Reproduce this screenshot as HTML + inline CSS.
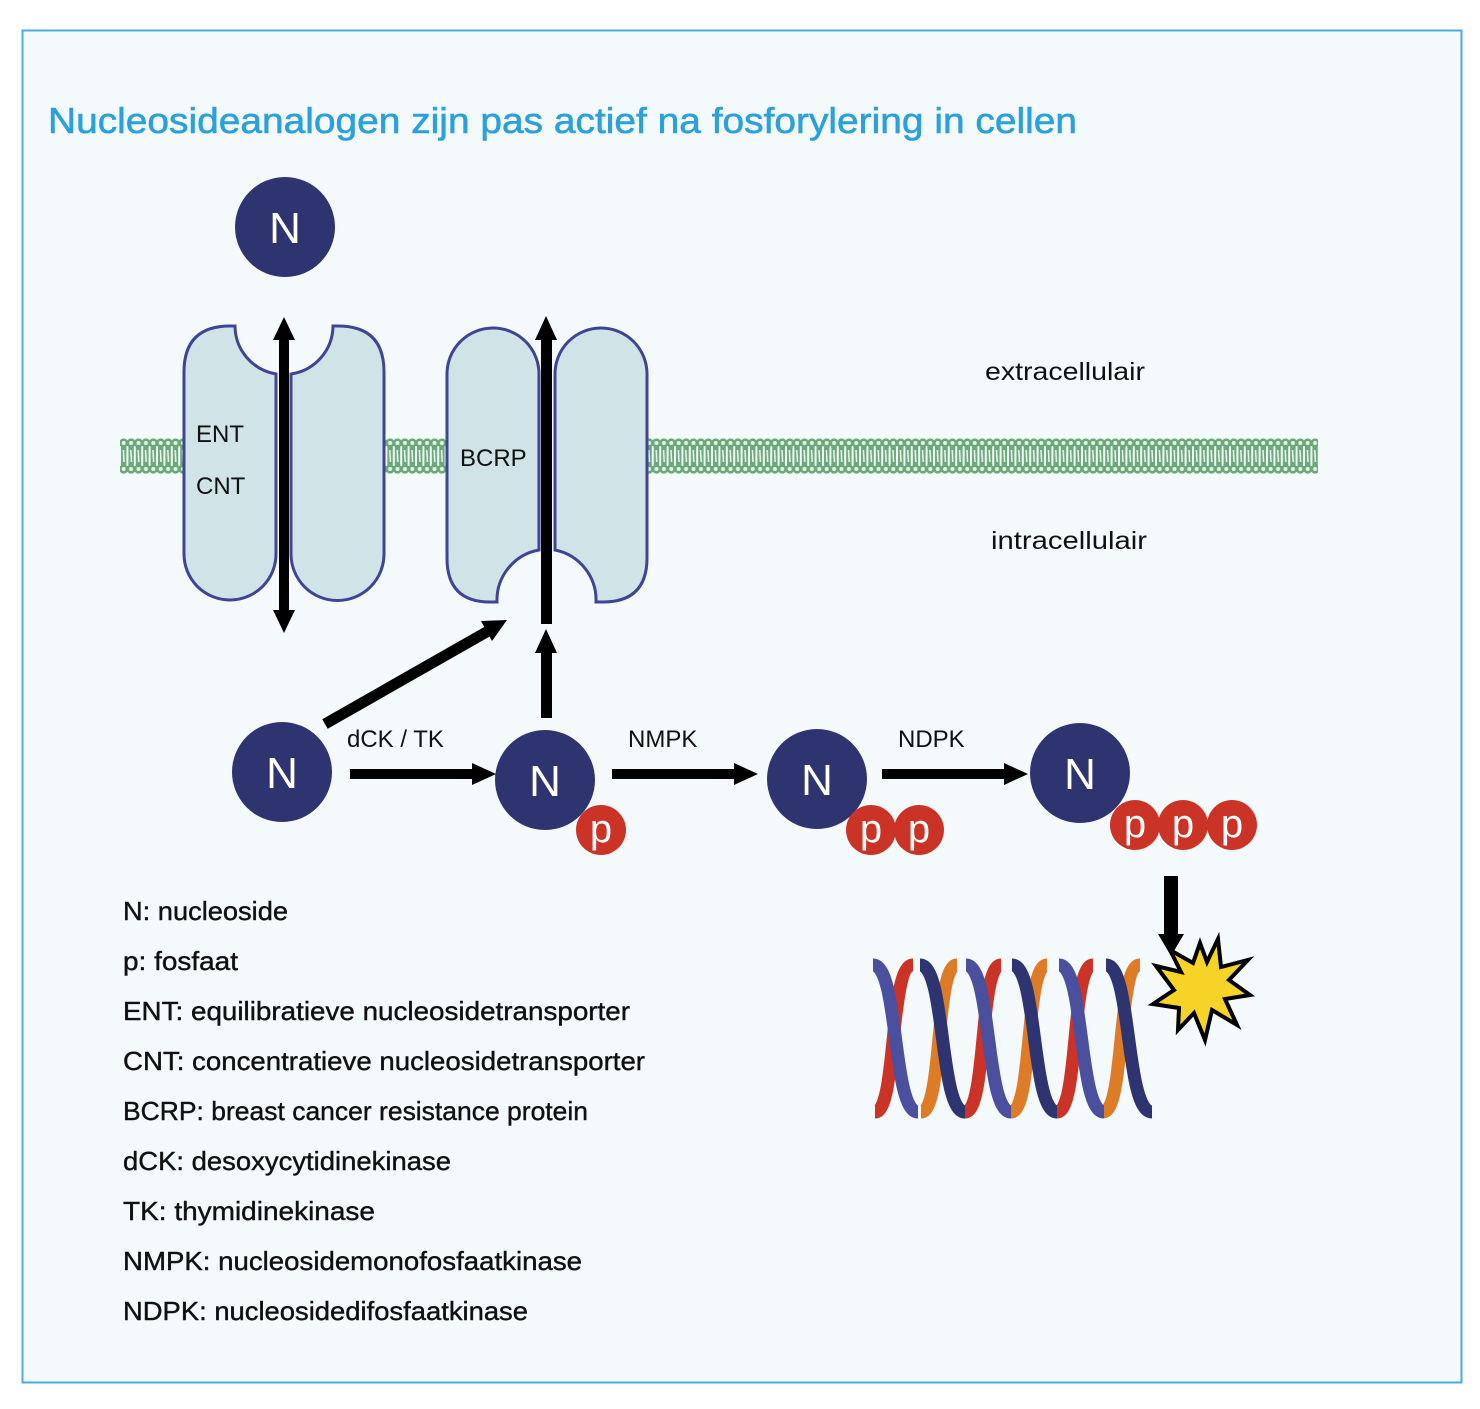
<!DOCTYPE html>
<html><head><meta charset="utf-8"><style>
html,body{margin:0;padding:0;background:#fff;}
svg{display:block;}
text{font-family:"Liberation Sans",sans-serif;}
</style></head><body>
<svg width="1480" height="1409" viewBox="0 0 1480 1409" xmlns="http://www.w3.org/2000/svg">
<defs>
<pattern id="mem" x="120" y="0" width="7.4" height="1409" patternUnits="userSpaceOnUse">
<rect x="1" y="443" width="5.4" height="26" fill="#6aaa7a"/>
<circle cx="3.7" cy="443" r="4.6" fill="#6aaa7a"/>
<circle cx="3.7" cy="469" r="4.6" fill="#6aaa7a"/>
<circle cx="3.7" cy="443" r="2" fill="#e6f0e0"/>
<circle cx="3.7" cy="469" r="2" fill="#e6f0e0"/>
<line x1="3.4" y1="450" x2="4" y2="462" stroke="#f2f7ee" stroke-width="1.5"/>
</pattern>
</defs>
<rect x="0" y="0" width="1480" height="1409" fill="#fff"/>
<rect x="22.5" y="30.5" width="1439" height="1352" fill="#f4f9fc" stroke="#48ade0" stroke-width="2"/>
<text x="48" y="133" font-size="36" fill="#2aa0dc" stroke="#2aa0dc" stroke-width="0.6" textLength="1029" lengthAdjust="spacingAndGlyphs">Nucleosideanalogen zijn pas actief na fosforylering in cellen</text>

<!-- membrane -->
<rect x="120" y="436" width="66" height="40" fill="url(#mem)"/>
<rect x="381" y="436" width="68" height="40" fill="url(#mem)"/>
<rect x="645" y="436" width="673" height="40" fill="url(#mem)"/>

<!-- ENT -->
<path d="M184 372 Q184 326 230 326 H235 A49 49 0 0 0 276 374 V554 A46 46 0 0 1 184 554 Z" fill="#d0e4e8" stroke="#3f4596" stroke-width="3"/>
<path d="M384 372 Q384 326 338 326 H333 A49 49 0 0 1 291 374 V554 A46 46 0 0 0 384 554 Z" fill="#d0e4e8" stroke="#3f4596" stroke-width="3"/>
<text x="196" y="442" font-size="24" fill="#111">ENT</text>
<text x="196" y="494" font-size="24" fill="#111">CNT</text>
<rect x="279" y="338" width="10" height="276" fill="#000"/>
<polygon points="284,317 273,340 295,340" fill="#000"/>
<polygon points="284,633 273,610 295,610" fill="#000"/>

<!-- BCRP -->
<path d="M447 374 A46 46 0 0 1 539 374 V550 A51 51 0 0 0 497 602 H490 Q447 602 447 558 Z" fill="#d0e4e8" stroke="#3f4596" stroke-width="3"/>
<path d="M647 374 A46 46 0 0 0 555 374 V550 A51 51 0 0 1 596 602 H603 Q647 602 647 558 Z" fill="#d0e4e8" stroke="#3f4596" stroke-width="3"/>
<text x="460" y="466" font-size="24" fill="#111">BCRP</text>
<rect x="541" y="338" width="11" height="286" fill="#000"/>
<polygon points="546,316 535,340 557,340" fill="#000"/>
<rect x="541" y="650" width="11" height="68" fill="#000"/>
<polygon points="546,629 535,653 557,653" fill="#000"/>

<!-- diagonal arrow -->
<line x1="325" y1="724" x2="490" y2="630" stroke="#000" stroke-width="11"/>
<polygon points="507,620 481,621 492,641" fill="#000"/>

<text x="985" y="380" font-size="25" fill="#111" textLength="160" lengthAdjust="spacingAndGlyphs">extracellulair</text>
<text x="991" y="549" font-size="25" fill="#111" textLength="156" lengthAdjust="spacingAndGlyphs">intracellulair</text>

<!-- N circles -->
<g fill="#2e3470">
<circle cx="285" cy="227" r="50"/>
<circle cx="282" cy="772" r="50"/>
<circle cx="545" cy="780" r="50"/>
<circle cx="817" cy="779" r="50"/>
<circle cx="1080" cy="773" r="50"/>
</g>
<g font-size="44" fill="#fff" text-anchor="middle">
<text x="285" y="243">N</text>
<text x="282" y="788">N</text>
<text x="545" y="796">N</text>
<text x="817" y="795">N</text>
<text x="1080" y="789">N</text>
</g>
<g fill="#cc3327">
<circle cx="601" cy="830" r="25"/>
<circle cx="871" cy="830" r="25"/>
<circle cx="919" cy="830" r="25"/>
<circle cx="1135" cy="825" r="25"/>
<circle cx="1183" cy="825" r="25"/>
<circle cx="1232" cy="825" r="25"/>
</g>
<g font-size="40" fill="#fff" text-anchor="middle">
<text x="601" y="842">p</text>
<text x="871" y="842">p</text>
<text x="919" y="842">p</text>
<text x="1135" y="837">p</text>
<text x="1183" y="837">p</text>
<text x="1232" y="837">p</text>
</g>

<!-- horizontal arrows -->
<rect x="350" y="769" width="126" height="10" fill="#000"/>
<polygon points="496,774 472,763 472,785" fill="#000"/>
<rect x="612" y="769" width="126" height="10" fill="#000"/>
<polygon points="758,774 734,763 734,785" fill="#000"/>
<rect x="882" y="769" width="126" height="10" fill="#000"/>
<polygon points="1028,774 1004,763 1004,785" fill="#000"/>
<text x="347" y="747" font-size="24" fill="#111">dCK / TK</text>
<text x="628" y="747" font-size="24" fill="#111">NMPK</text>
<text x="898" y="747" font-size="24" fill="#111">NDPK</text>

<!-- down arrow -->
<rect x="1164" y="876" width="14" height="62" fill="#000"/>
<polygon points="1171,956 1158,934 1184,934" fill="#000"/>

<!-- DNA -->
<g fill="none" stroke-width="13" stroke-linecap="butt">
<path d="M875 1112 C897 1112 889 965 913 965" stroke="#cc3327"/>
<path d="M921 1112 C943 1112 935 965 957 965" stroke="#de7b27"/>
<path d="M965 1112 C987 1112 979 965 1001 965" stroke="#cc3327"/>
<path d="M1011 1112 C1033 1112 1025 965 1047 965" stroke="#de7b27"/>
<path d="M1057 1112 C1079 1112 1071 965 1093 965" stroke="#cc3327"/>
<path d="M1103 1112 C1125 1112 1117 965 1140 965" stroke="#de7b27"/>
<path d="M873 965 C899 965 892 1112 918 1112" stroke="#4a4f9e"/>
<path d="M920 965 C946 965 939 1112 965 1112" stroke="#2e3470"/>
<path d="M966 965 C992 965 985 1112 1011 1112" stroke="#4a4f9e"/>
<path d="M1012 965 C1038 965 1031 1112 1057 1112" stroke="#2e3470"/>
<path d="M1059 965 C1085 965 1078 1112 1104 1112" stroke="#4a4f9e"/>
<path d="M1106 965 C1132 965 1125 1112 1152 1112" stroke="#2e3470"/>
</g>

<!-- starburst -->
<polygon points="1218,939 1221,967 1248,960 1229,980 1250,995 1225,999 1237,1025 1212,1010 1205,1040 1194,1013 1178,1030 1179,1008 1153,1004 1174,990 1156,966 1181,972 1170,950 1193,963 1200,943 1207,962" fill="#f5d327" stroke="#000" stroke-width="4" stroke-linejoin="miter"/>

<!-- legend -->
<g font-size="26" fill="#111" stroke="#111" stroke-width="0.4">
<text x="123" y="920" textLength="165" lengthAdjust="spacingAndGlyphs">N: nucleoside</text>
<text x="123" y="970" textLength="115" lengthAdjust="spacingAndGlyphs">p: fosfaat</text>
<text x="123" y="1020" textLength="507" lengthAdjust="spacingAndGlyphs">ENT: equilibratieve nucleosidetransporter</text>
<text x="123" y="1070" textLength="522" lengthAdjust="spacingAndGlyphs">CNT: concentratieve nucleosidetransporter</text>
<text x="123" y="1120" textLength="465" lengthAdjust="spacingAndGlyphs">BCRP: breast cancer resistance protein</text>
<text x="123" y="1170" textLength="328" lengthAdjust="spacingAndGlyphs">dCK: desoxycytidinekinase</text>
<text x="123" y="1220" textLength="252" lengthAdjust="spacingAndGlyphs">TK: thymidinekinase</text>
<text x="123" y="1270" textLength="459" lengthAdjust="spacingAndGlyphs">NMPK: nucleosidemonofosfaatkinase</text>
<text x="123" y="1320" textLength="405" lengthAdjust="spacingAndGlyphs">NDPK: nucleosidedifosfaatkinase</text>
</g>
</svg>
</body></html>
